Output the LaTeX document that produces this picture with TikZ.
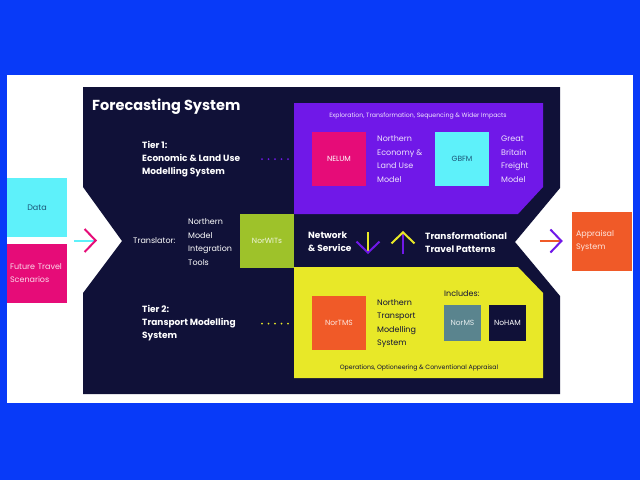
\documentclass[tikz,border=0pt]{standalone}
\usepackage{fontspec}
\setmainfont{Poppins}
\usepackage{xcolor}
\usetikzlibrary{arrows.meta,positioning}

\definecolor{bgblue}{RGB}{8,58,248}
\definecolor{navy}{RGB}{16,17,56}
\definecolor{violetp}{RGB}{112,24,232}
\definecolor{magentap}{RGB}{230,12,120}
\definecolor{cyanp}{RGB}{94,241,250}
\definecolor{yellowp}{RGB}{232,232,40}
\definecolor{greenp}{RGB}{158,194,42}
\definecolor{orangep}{RGB}{240,90,40}
\definecolor{tealp}{RGB}{90,132,142}
\definecolor{darkteal}{RGB}{28,86,120}

\begin{document}
\begin{tikzpicture}[x=1pt, y=-1pt,
    box/.style={fill=#1, minimum width=54pt, minimum height=54pt, inner sep=0pt,
                font=\fontsize{7.5}{9}\selectfont, text=white},
    smallbox/.style={box=#1, minimum width=37pt, minimum height=36pt},
    sidebox/.style={box=#1, minimum width=60pt, minimum height=59pt,
                    font=\fontsize{8}{13}\selectfont},
    desc/.style={anchor=west, align=left, inner sep=0pt,
                 font=\fontsize{8}{13.5}\selectfont, text=#1},
    tier/.style={anchor=west, align=left, inner sep=0pt,
                 font=\fontsize{9}{13}\selectfont\bfseries, text=white},
    caption/.style={inner sep=0pt, font=\fontsize{6.2}{7}\selectfont, text=#1},
    flow/.style 2 args={draw=#1, line width=2pt,
                        -{Straight Barb[color=#2, length=11pt, width=23pt]}},
    dots/.style={draw=#1, line width=2pt, line cap=round, dash pattern=on 0pt off 6.5pt}
]

%% Frame
\fill[bgblue] (0,0) rectangle (640,480);
\fill[white] (7,75) rectangle (633,403);

%% Forecasting system panel
\fill[navy] (83,87) -- (560,87) -- (560,188) -- (515,242) -- (560,296) -- (560,394)
    -- (83,394) -- (83,293) -- (122,241) -- (83,187) -- cycle;
\node[anchor=west, inner sep=0pt, font=\fontsize{14.5}{16}\selectfont\bfseries, text=white]
    (title) at (92,107) {Forecasting System};

%% Tier 1: purple panel
\fill[violetp] (294,103) -- (543,103) -- (543,187) -- (518,214) -- (294,214) -- cycle;
\node[caption=white!90!violetp] (explore) at (418,116)
    {Exploration, Transformation, Sequencing \& Wider Impacts};
\node[box=magentap] (nelum) at (339,159) {NELUM};
\node[desc=white!88!violetp] (nelumtxt) at (377,159) {Northern\\Economy \&\\Land Use\\Model};
\node[box=cyanp, text=darkteal] (gbfm) at (462,159) {GBFM};
\node[desc=white!88!violetp] (gbfmtxt) at (501,159) {Great\\Britain\\Freight\\Model};
\node[tier] (tierone) at (142,159) {Tier 1:\\Economic \& Land Use\\Modelling System};

%% Translator
\node[desc=white] (translator) at (133,241) {Translator:};
\node[desc=white] (normit) at (188,242) {Northern\\Model\\Integration\\Tools};
\node[box=greenp, text=white!85!greenp] (norwits) at (267,240.5) {NorWITs};

%% Middle band
\node[tier] (network) at (308,242) {Network\\\& Service};
\node[tier] (patterns) at (425,242) {Transformational\\Travel Patterns};

%% Tier 2: yellow panel
\fill[yellowp] (294,267) -- (518,267) -- (543,293) -- (543,378) -- (294,378) -- cycle;
\node[box=orangep, text=white!85!orangep] (nortms) at (339,323) {NorTMS};
\node[desc=navy] (nortmstxt) at (377,323.5) {Northern\\Transport\\Modelling\\System};
\node[desc=navy] (includes) at (444,294) {Includes:};
\node[smallbox=tealp, text=white!85!tealp] (norms) at (462.5,323) {NorMS};
\node[smallbox=navy] (noham) at (507.5,323) {NoHAM};
\node[caption=navy] (operations) at (419,368)
    {Operations, Optioneering \& Conventional Appraisal};
\node[tier] (tiertwo) at (142,323.5) {Tier 2:\\Transport Modelling\\System};

%% Inputs and outputs
\node[sidebox=cyanp, text=darkteal] (data) at (37,207.5) {Data};
\node[sidebox=magentap, text=white!85!magentap, text width=54pt, align=left]
    (future) at (37,273.5) {Future Travel\\Scenarios};
\node[sidebox=orangep, text=white!85!orangep, text width=52pt, align=left]
    (appraisal) at (602,241) {Appraisal\\System};

%% Connectors
\coordinate (datain) at (74,240.5);
\draw[flow={cyanp}{magentap}] (datain) -- ++(23,0);
\draw[flow={orangep}{violetp}] ([xshift=-32pt]appraisal.west) -- ([xshift=-9pt]appraisal.west);
\coordinate (downtop) at (368,232);
\coordinate (uptop) at (403,231);
\draw[flow={yellowp}{violetp}] (downtop) -- ++(0,22);
\draw[flow={violetp}{yellowp}] (uptop |- 0,254) -- (uptop);
\draw[dots=violetp] (262,0 |- tierone) -- ++(26.5,0);
\draw[dots=yellowp] (262,0 |- tiertwo) -- ++(26.5,0);

\end{tikzpicture}
\end{document}
